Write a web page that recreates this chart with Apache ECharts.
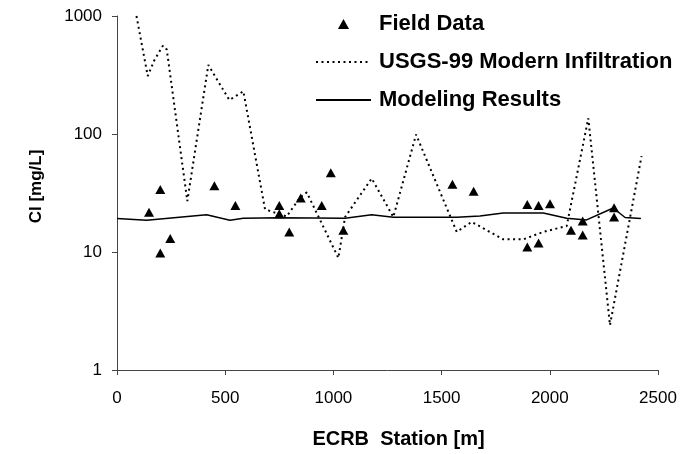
<!DOCTYPE html>
<html>
<head>
<meta charset="utf-8">
<script src="https://cdn.jsdelivr.net/npm/echarts@6/dist/echarts.min.js"></script>
<style>
html,body{margin:0;padding:0;background:#fff;}
#chart{width:690px;height:454px;}
</style>
</head>
<body>
<div id="chart"></div>
<script>
// Field Data (triangles)
var fieldX = [148, 200, 246, 200, 450, 547, 750, 750, 796, 849, 946, 988, 1046, 1550, 1648, 1896, 1948, 2001, 1896, 1948, 2098, 2152, 2152, 2297, 2297];
var fieldY = [21.7, 33.8, 13.0, 9.8, 36.5, 24.8, 24.8, 21.1, 14.8, 28.7, 24.8, 46.9, 15.3, 37.6, 32.7, 25.3, 24.8, 25.6, 11.0, 11.9, 15.3, 18.3, 13.9, 23.7, 19.8];

// USGS-99 Modern Infiltration (dotted)
var usgsX = [90, 142, 172, 212, 230, 325, 422, 519, 584, 684, 784, 846, 877, 1023, 1054, 1177, 1277, 1382, 1570, 1639, 1785, 1878, 1970, 2078, 2178, 2278, 2424];
var usgsY = [1000, 310, 420, 560, 520, 27, 385, 194, 230, 23, 20, 29, 32, 8.9, 19.8, 42, 19.8, 99, 14.8, 18, 12.8, 12.8, 14.8, 16.6, 136, 2.4, 65];

// Modeling Results (solid)
var modX = [0, 137, 414, 522, 584, 750, 1054, 1177, 1277, 1570, 1677, 1785, 1970, 2078, 2170, 2293, 2348, 2421];
var modY = [19.2, 18.6, 20.7, 18.6, 19.3, 19.5, 19.3, 20.7, 19.7, 19.7, 20.2, 21.4, 21.4, 19.3, 18.7, 23.6, 19.6, 19.2];

var xTicks = [0, 500, 1000, 1500, 2000, 2500];
var yTicks = [1, 10, 100, 1000];

function pairs(xs, ys) { return xs.map(function (x, i) { return [x, ys[i]]; }); }

var chart = echarts.init(document.getElementById('chart'), null, {renderer: 'canvas'});
var FONT = '"Liberation Sans", Arial, sans-serif';
chart.setOption({
  animation: false,
  backgroundColor: '#ffffff',
  textStyle: {fontFamily: FONT},
  grid: {left: 117, right: 32, top: 16, bottom: 79, containLabel: false},
  legend: {
    orient: 'vertical',
    left: 315,
    top: 13,
    padding: 0,
    itemWidth: 55,
    itemHeight: 10,
    itemGap: 16,
    symbolKeepAspect: true,
    textStyle: {fontFamily: FONT, fontSize: 22, fontWeight: 'bold', color: '#000', padding: [0, 0, 0, 3]},
    data: [
      {name: 'Field Data', icon: 'path://M5,0L10,9L0,9Z', itemStyle: {color: '#000', opacity: 1}},
      {name: 'USGS-99 Modern Infiltration', itemStyle: {opacity: 0}},
      {name: 'Modeling Results', itemStyle: {opacity: 0}}
    ]
  },
  xAxis: {
    type: 'value',
    min: xTicks[0],
    max: xTicks[xTicks.length - 1],
    interval: 500,
    name: 'ECRB  Station [m]',
    nameLocation: 'middle',
    nameGap: 59,
    nameTextStyle: {fontFamily: FONT, fontSize: 20, fontWeight: 'bold', color: '#000', padding: [0, 0, 0, 22]},
    axisLine: {show: true, onZero: false, lineStyle: {color: '#444', width: 1}},
    axisTick: {show: true, inside: false, length: 5, lineStyle: {color: '#444'}},
    axisLabel: {fontFamily: FONT, fontSize: 17, color: '#000', margin: 20, formatter: function (v) { return String(v); }},
    splitLine: {show: false}
  },
  yAxis: {
    type: 'log',
    logBase: 10,
    min: yTicks[0],
    max: yTicks[yTicks.length - 1],
    name: 'Cl [mg/L]',
    nameLocation: 'middle',
    nameGap: 72,
    nameTextStyle: {fontFamily: FONT, fontSize: 17, fontWeight: 'bold', color: '#000', padding: [0, 0, 0, 13]},
    axisLine: {show: true, lineStyle: {color: '#444', width: 1}},
    axisTick: {show: true, inside: false, length: 5, lineStyle: {color: '#444'}},
    minorTick: {show: false},
    axisLabel: {fontFamily: FONT, fontSize: 17, color: '#000', margin: 15, formatter: function (v) { return String(v); }},
    splitLine: {show: false}
  },
  series: [
    {
      name: 'Field Data',
      type: 'scatter',
      symbol: 'triangle',
      symbolSize: [10, 9],
      itemStyle: {color: '#000', opacity: 1},
      data: pairs(fieldX, fieldY),
      z: 5
    },
    {
      name: 'USGS-99 Modern Infiltration',
      type: 'line',
      symbol: 'none',
      showSymbol: false,
      lineStyle: {color: '#000', width: 2, type: [2, 3.5]},
      itemStyle: {color: '#000'},
      data: pairs(usgsX, usgsY),
      z: 3
    },
    {
      name: 'Modeling Results',
      type: 'line',
      symbol: 'none',
      showSymbol: false,
      lineStyle: {color: '#000', width: 1.5},
      itemStyle: {color: '#000'},
      data: pairs(modX, modY),
      z: 4
    }
  ]
});
</script>
</body>
</html>
